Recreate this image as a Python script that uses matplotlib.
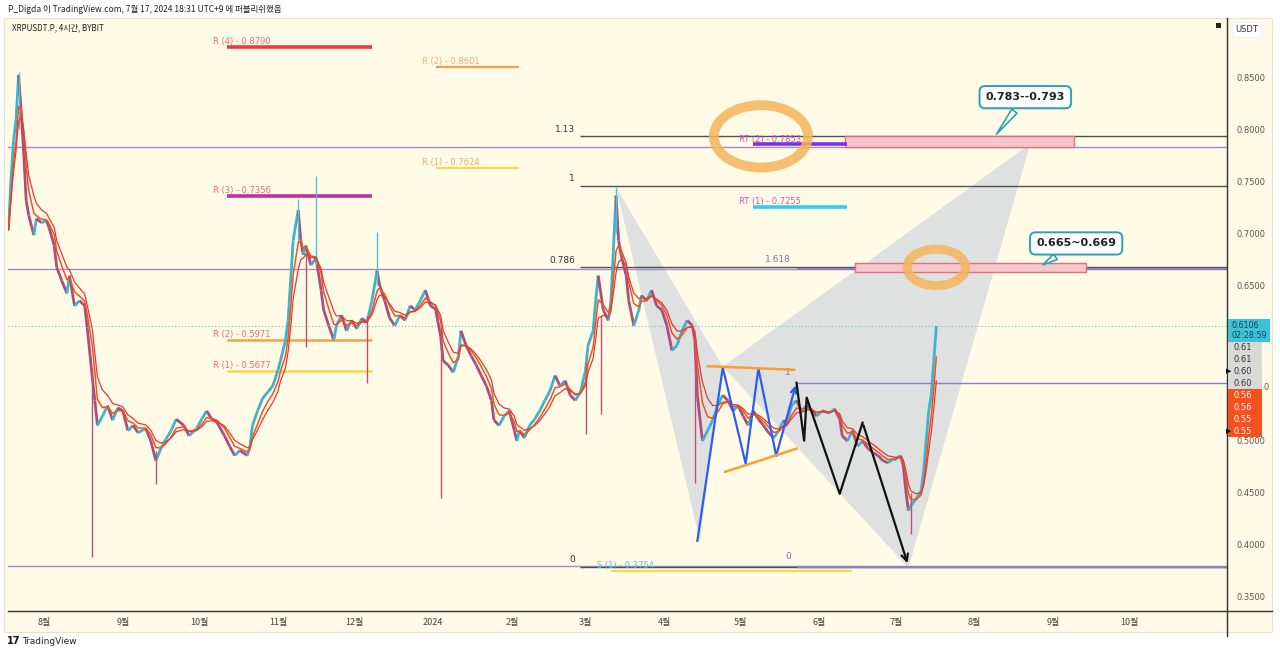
import matplotlib
matplotlib.use('Agg')
import matplotlib.pyplot as plt
import matplotlib.dates as mdates
from matplotlib.collections import LineCollection
from matplotlib.patches import Ellipse, Rectangle, Polygon
from matplotlib.lines import Line2D
import numpy as np
import pandas as pd

KR = ['Noto Sans CJK KR', 'DejaVu Sans']
plt.rcParams['font.family'] = ['DejaVu Sans']

# ---------------- data ----------------
dates = [
 '2023-07-18','2023-07-19','2023-07-20','2023-07-21','2023-07-22','2023-07-23','2023-07-24','2023-07-25','2023-07-26','2023-07-28','2023-07-29','2023-07-31',
 '2023-08-02','2023-08-03','2023-08-05','2023-08-06','2023-08-08','2023-08-10','2023-08-11','2023-08-13','2023-08-15','2023-08-17','2023-08-18','2023-08-20','2023-08-21','2023-08-22','2023-08-24','2023-08-26','2023-08-28','2023-08-30',
 '2023-09-01','2023-09-03','2023-09-05','2023-09-07','2023-09-10','2023-09-12','2023-09-14','2023-09-16','2023-09-18','2023-09-20','2023-09-22','2023-09-25','2023-09-27','2023-09-30',
 '2023-10-02','2023-10-04','2023-10-06','2023-10-08','2023-10-11','2023-10-13','2023-10-15','2023-10-17','2023-10-20','2023-10-21','2023-10-22','2023-10-24','2023-10-26','2023-10-28','2023-10-30',
 '2023-11-01','2023-11-02','2023-11-04','2023-11-05','2023-11-06','2023-11-07','2023-11-09','2023-11-10','2023-11-11','2023-11-12','2023-11-14','2023-11-16','2023-11-18','2023-11-19','2023-11-21','2023-11-23','2023-11-24','2023-11-26','2023-11-28','2023-11-30',
 '2023-12-02','2023-12-04','2023-12-06','2023-12-08','2023-12-10','2023-12-11','2023-12-13','2023-12-15','2023-12-17','2023-12-19','2023-12-21','2023-12-23','2023-12-25','2023-12-27','2023-12-29','2023-12-31',
 '2024-01-02','2024-01-04','2024-01-05','2024-01-07','2024-01-09','2024-01-11','2024-01-12','2024-01-14','2024-01-16','2024-01-18','2024-01-20','2024-01-22','2024-01-24','2024-01-25','2024-01-27','2024-01-29','2024-01-31',
 '2024-02-02','2024-02-03','2024-02-04','2024-02-06','2024-02-08','2024-02-10','2024-02-12','2024-02-14','2024-02-16','2024-02-18','2024-02-20','2024-02-22','2024-02-24','2024-02-26','2024-02-28',
 '2024-03-01','2024-03-02','2024-03-04','2024-03-05','2024-03-06','2024-03-08','2024-03-10','2024-03-11','2024-03-13','2024-03-14','2024-03-15','2024-03-17','2024-03-18','2024-03-20','2024-03-22','2024-03-23','2024-03-25','2024-03-27','2024-03-29','2024-03-31',
 '2024-04-02','2024-04-04','2024-04-06','2024-04-08','2024-04-10','2024-04-12','2024-04-13','2024-04-14','2024-04-16','2024-04-18','2024-04-20','2024-04-22','2024-04-24','2024-04-26','2024-04-28','2024-04-30',
 '2024-05-02','2024-05-04','2024-05-06','2024-05-08','2024-05-10','2024-05-12','2024-05-14','2024-05-16','2024-05-18','2024-05-19','2024-05-21','2024-05-23','2024-05-25','2024-05-27','2024-05-29','2024-05-31',
 '2024-06-02','2024-06-05','2024-06-07','2024-06-09','2024-06-10','2024-06-12','2024-06-14','2024-06-16','2024-06-18','2024-06-20','2024-06-22','2024-06-24','2024-06-26','2024-06-28','2024-06-30',
 '2024-07-01','2024-07-03','2024-07-04','2024-07-05','2024-07-06','2024-07-07','2024-07-09','2024-07-11','2024-07-12','2024-07-13','2024-07-14','2024-07-15','2024-07-16','2024-07-17']
closes = [
 0.703,0.751,0.789,0.809,0.852,0.818,0.777,0.731,0.717,0.698,0.714,0.710,
 0.712,0.705,0.688,0.667,0.654,0.642,0.659,0.630,0.635,0.630,0.609,0.561,0.539,0.515,0.524,0.534,0.520,0.532,
 0.529,0.510,0.515,0.508,0.512,0.500,0.481,0.493,0.502,0.510,0.521,0.515,0.505,0.512,
 0.521,0.529,0.521,0.518,0.505,0.495,0.486,0.491,0.486,0.495,0.515,0.529,0.541,0.547,0.553,
 0.568,0.577,0.597,0.616,0.654,0.693,0.722,0.693,0.679,0.688,0.669,0.676,0.645,0.626,0.611,0.597,0.611,0.621,0.606,0.616,
 0.608,0.618,0.614,0.635,0.664,0.650,0.635,0.618,0.611,0.621,0.616,0.630,0.626,0.635,0.645,0.630,
 0.627,0.601,0.577,0.573,0.566,0.582,0.606,0.592,0.582,0.573,0.563,0.553,0.539,0.520,0.515,0.524,0.529,
 0.510,0.500,0.510,0.503,0.515,0.521,0.529,0.539,0.548,0.563,0.553,0.558,0.544,0.539,0.547,
 0.568,0.592,0.606,0.635,0.659,0.626,0.616,0.635,0.736,0.693,0.679,0.659,0.635,0.611,0.626,0.640,0.635,0.645,0.630,0.626,
 0.611,0.587,0.592,0.606,0.616,0.611,0.597,0.544,0.500,0.510,0.520,0.534,0.544,0.539,0.529,0.534,
 0.524,0.515,0.529,0.521,0.515,0.508,0.503,0.510,0.520,0.515,0.534,0.539,0.529,0.534,0.529,0.524,
 0.529,0.527,0.531,0.521,0.505,0.500,0.510,0.495,0.500,0.493,0.489,0.486,0.481,0.479,0.483,
 0.483,0.486,0.476,0.452,0.433,0.438,0.444,0.452,0.471,0.500,0.529,0.544,0.577,0.6106]

spike_dates = ['2023-07-22','2023-11-09','2023-11-16','2023-12-10','2024-03-13']
spike_lo = [0.80, 0.69, 0.67, 0.65, 0.70]
spike_hi = [0.855, 0.733, 0.755, 0.701, 0.744]
drop_dates = ['2023-08-20','2023-09-14','2023-11-12','2023-12-06','2024-01-04','2024-03-01','2024-03-07','2024-04-13','2024-07-07']
drop_lo = [0.388, 0.459, 0.590, 0.556, 0.445, 0.507, 0.526, 0.460, 0.411]
drop_hi = [0.570, 0.490, 0.680, 0.620, 0.610, 0.575, 0.620, 0.600, 0.450]

month_ticks = ['2023-08-01','2023-09-01','2023-10-01','2023-11-01','2023-12-01','2024-01-01','2024-02-01','2024-03-01',
               '2024-04-01','2024-05-01','2024-06-01','2024-07-01','2024-08-01','2024-09-01','2024-10-01']
month_labels = ['8월','9월','10월','11월','12월','2024','2월','3월','4월','5월','6월','7월','8월','9월','10월']
price_ticks = [0.35,0.40,0.45,0.50,0.65,0.70,0.75,0.80,0.85]   # 0.55 / 0.60 are hidden behind the price tags

full_levels = [0.783, 0.665, 0.380]
fib_labels = ['1.13', '1', '0.786', '0']
fib_prices = [0.793, 0.745, 0.667, 0.379]
fib_start = '2024-02-28'
fib2_labels = ['1.618', '1', '0']
fib2_prices = [0.665, 0.556, 0.379]
fib2_start = '2024-05-23'

sr_names  = ['R (4) - 0.8790','R (3) - 0.7356','R (2) - 0.5971','R (1) - 0.5677','R (2) - 0.8601','R (1) - 0.7624','RT (2) - 0.7853','RT (1) - 0.7255','S (1) - 0.3754']
sr_prices = [0.8790, 0.7356, 0.5971, 0.5677, 0.8601, 0.7624, 0.7853, 0.7255, 0.3754]
sr_start  = ['2023-10-12','2023-10-12','2023-10-12','2023-10-12','2024-01-02','2024-01-02','2024-05-06','2024-05-06','2024-03-11']
sr_end    = ['2023-12-08','2023-12-08','2023-12-08','2023-12-08','2024-02-04','2024-02-04','2024-06-12','2024-06-12','2024-06-14']

xabcd_dates = ['2024-03-13','2024-04-15','2024-04-24','2024-08-23','2024-07-06']
xabcd_prices = [0.744, 0.404, 0.5716, 0.786, 0.378]

blue_dates = ['2024-04-14','2024-04-24','2024-05-03','2024-05-08','2024-05-15','2024-05-23']
blue_prices = [0.404, 0.5706, 0.4781, 0.5697, 0.4858, 0.5562]
black_dates = ['2024-05-23','2024-05-26','2024-05-27','2024-06-09','2024-06-18','2024-07-06']
black_prices = [0.556, 0.5003, 0.5417, 0.4492, 0.5176, 0.3799]

tri_upper_dates = ['2024-04-18','2024-05-22']
tri_upper_prices = [0.572, 0.5685]
tri_lower_dates = ['2024-04-25','2024-05-23']
tri_lower_prices = [0.4704, 0.4926]

zones = [('2024-06-11','2024-09-09',0.783,0.793), ('2024-06-15','2024-09-14',0.663,0.671)]
last_price = 0.6106

# ---------------- figure ----------------
W, H = 1280, 654
fig = plt.figure(figsize=(W/100, H/100), dpi=100)
fig.patch.set_facecolor('white')
CREAM = '#fffbe6'

def fx(px): return px / W
def fy(py): return 1 - py / H

fig.add_artist(Rectangle((fx(4), fy(632)), 1268/W, 614/H, transform=fig.transFigure,
                         fc=CREAM, ec='#e6e3d6', lw=0.8, zorder=0))

ax = fig.add_axes([fx(8), fy(611), (1227-8)/W, (611-20)/H])
ax.set_facecolor(CREAM)
D = lambda s: mdates.date2num(pd.to_datetime(s))
x0, x1 = D('2023-07-17 20:00'), D('2024-11-08 08:00')
ax.set_xlim(x0, x1)
ax.set_ylim(0.3365, 0.9049)

xd = D(dates)
yc = np.array(closes)

# harmonic XABCD fill
X, A, B, C, Dd = [(D(d), p) for d, p in zip(xabcd_dates, xabcd_prices)]
gray = '#dee1e0'
ax.add_patch(Polygon([X, A, B], closed=True, fc=gray, ec='none', zorder=1))
ax.add_patch(Polygon([B, C, Dd], closed=True, fc=gray, ec='none', zorder=1))

# horizontal levels
for p in full_levels:
    ax.axhline(p, color='#9a8fcf', lw=1.0, zorder=2)
for lab, p in zip(fib_labels, fib_prices):
    ax.hlines(p, D(fib_start), x1, color='#505050', lw=1.0, zorder=2)
    ax.annotate(lab, (D(fib_start), p), xytext=(-4, 2), textcoords='offset points',
                ha='right', va='bottom', fontsize=6.5, color='#333333')
for lab, p in zip(fib2_labels, fib2_prices):
    ax.hlines(p, D(fib2_start), x1, color='#8c80c4', lw=1.6 if lab == '1.618' else 1.0, zorder=2)
    ax.annotate(lab, (D(fib2_start), p), xytext=(-4, 4), textcoords='offset points',
                ha='right', va='bottom', fontsize=6.5, color='#7a74a8')
ax.axhline(last_price, color='#5cc8da', lw=0.8, ls=(0, (1, 2)), zorder=2)

# zones
for s, e, lo, hi in zones:
    ax.add_patch(Rectangle((D(s), lo), D(e) - D(s), hi - lo, fc='#f7c6cc', ec='#e0707c', lw=1.0, zorder=3))

# support / resistance labels
sr_colors = ['#f23645', '#c2309a', '#f5a04a', '#f7d84a', '#f5a04a', '#f7d84a', '#7c2ff0', '#2bd2ea', '#f7d84a']
sr_text = ['#f06a78', '#f06a78', '#f06a78', '#f06a78', '#f4a868', '#f4a868', '#e04fb8', '#e04fb8', '#4fc3e8']
sr_lw = [2.6, 2.6, 1.8, 1.8, 1.6, 1.6, 2.6, 2.6, 1.6]
for n, p, s, e, c, tc, lw in zip(sr_names, sr_prices, sr_start, sr_end, sr_colors, sr_text, sr_lw):
    ax.hlines(p, D(s), D(e), color=c, lw=lw, zorder=3)
    ax.annotate(n, (D(s), p), xytext=(-10, 0.5), textcoords='offset points',
                ha='left', va='bottom', fontsize=6, color=tc, zorder=3)

# price series
pts = np.column_stack([xd, yc])
segs = np.stack([pts[:-1], pts[1:]], axis=1)
cols = np.where(np.diff(yc) >= 0, '#3fb2cc', '#a8507c')
ax.add_collection(LineCollection(segs, colors=cols, lw=2.0, zorder=4))
ax.vlines(D(spike_dates), spike_lo, spike_hi, color='#4cc3da', lw=1.0, zorder=4)
ax.vlines(D(drop_dates), drop_lo, drop_hi, color='#c05070', lw=1.0, zorder=4)
s = pd.Series(yc)
ax.plot(xd, s.ewm(span=3).mean(), color='#f4511e', lw=1.1, zorder=5)
ax.plot(xd, s.ewm(span=5).mean(), color='#e53935', lw=0.9, zorder=5)

# zigzags
bx, by = D(blue_dates), blue_prices
ax.plot(bx[:-1], by[:-1], color='#2f5cf0', lw=1.6, zorder=6)
ax.annotate('', xy=(bx[-1], by[-1]), xytext=(bx[-2], by[-2]),
            arrowprops=dict(arrowstyle='->', color='#2f5cf0', lw=1.6, mutation_scale=10), zorder=6)
kx, ky = D(black_dates), black_prices
ax.plot(kx[:-1], ky[:-1], color='#111111', lw=1.6, zorder=6)
ax.annotate('', xy=(kx[-1], ky[-1]), xytext=(kx[-2], ky[-2]),
            arrowprops=dict(arrowstyle='->', color='#111111', lw=1.6, mutation_scale=12), zorder=6)
ax.plot(D(tri_upper_dates), tri_upper_prices, color='#f5a030', lw=1.8, zorder=6)
ax.plot(D(tri_lower_dates), tri_lower_prices, color='#f5a030', lw=1.8, zorder=6)

# hand-drawn highlight circles
ax.add_patch(Ellipse((D('2024-05-09'), 0.793), 37, 0.060, fill=False, ec='#f5b55c', lw=7, alpha=0.85, zorder=7))
ax.add_patch(Ellipse((D('2024-07-17'), 0.667), 23, 0.035, fill=False, ec='#f5b55c', lw=6.5, alpha=0.85, zorder=7))

# callouts
for txt, tpos, ppos in [('0.783--0.793', ('2024-08-21', 0.8307), ('2024-08-09', 0.793)),
                        ('0.665~0.669', ('2024-09-10', 0.690), ('2024-08-27', 0.668))]:
    ax.annotate(txt, xy=(D(ppos[0]), ppos[1]), xytext=(D(tpos[0]), tpos[1]),
                ha='center', va='center', fontsize=8, fontweight='bold', color='#222222',
                bbox=dict(boxstyle='round,pad=0.55,rounding_size=0.5', fc='white', ec='#2aa3ad', lw=1.4),
                arrowprops=dict(arrowstyle='wedge,tail_width=0.6', fc='white', ec='#2aa3ad', lw=1.2),
                zorder=8)

# axes styling
for sp in ['top', 'left', 'right', 'bottom']:
    ax.spines[sp].set_visible(False)
ax.set_xticks(D(month_ticks))
ax.set_xticklabels(month_labels, fontfamily=KR)
ax.tick_params(axis='x', length=0, labelsize=6.5, colors='#444444', pad=5)
ax.yaxis.tick_right()
ax.set_yticks(price_ticks)
ax.set_yticklabels([f'{v:.4f}' for v in price_ticks])
ax.tick_params(axis='y', length=0, labelsize=6, colors='#555555', pad=7)

fig.add_artist(Line2D([fx(1227), fx(1227)], [fy(636), fy(18)], color='#333333', lw=1.0, transform=fig.transFigure))
fig.add_artist(Line2D([fx(8), fx(1272)], [fy(611), fy(611)], color='#333333', lw=1.0, transform=fig.transFigure))

# right axis tags
def tag(y0, y1, x1p, fc):
    fig.add_artist(Rectangle((fx(1228), fy(y1)), (x1p-1228)/W, (y1-y0)/H, transform=fig.transFigure,
                             fc=fc, ec='none', zorder=10))
tag(319, 342, 1270, '#3cc3d8')
fig.text(fx(1232), fy(325), '0.6106', fontsize=5.8, color='#0d4450', va='center', zorder=11)
fig.text(fx(1232), fy(336), '02:28:59', fontsize=5.8, color='#0d4450', va='center', zorder=11)
tag(342, 389, 1262, '#d9d9d6')
for yy, t in zip([347, 359, 371, 383], ['0.61', '0.61', '0.60', '0.60']):
    fig.text(fx(1234), fy(yy), t, fontsize=6, color='#333333', va='center', zorder=11)
tag(389, 437, 1262, '#f4511e')
for yy, t in zip([395, 407, 419, 431], ['0.56', '0.56', '0.55', '0.55']):
    fig.text(fx(1234), fy(yy), t, fontsize=6, color='white', va='center', zorder=11)
fig.text(fx(1264), fy(388), '0', fontsize=6, color='#555555', va='center')
for yy in [371, 431]:
    fig.text(fx(1226), fy(yy), '▶', fontsize=5, color='#111111', va='center', zorder=12)
fig.text(fx(1247), fy(30), 'USDT', fontsize=6, color='#333333', ha='center', va='center',
         bbox=dict(boxstyle='round,pad=0.4', fc='white', ec='#eeeeee', lw=0.5))
fig.add_artist(Rectangle((fx(1216), fy(28)), 5/W, 5/H, transform=fig.transFigure, fc='#222222', ec='none'))

# header / footer
fig.text(fx(8), fy(9), 'P_Digda 이 TradingView.com, 7월 17, 2024 18:31 UTC+9 에 퍼블리쉬했음',
         fontsize=6.1, color='#222222', va='center', fontfamily=KR)
fig.text(fx(12), fy(28), 'XRPUSDT.P, 4시간, BYBIT', fontsize=5.8, color='#222222', va='center', fontfamily=KR)
fig.text(fx(7), fy(641), '17', fontsize=7, fontweight='heavy', color='#111111', va='center')
fig.text(fx(22), fy(641), 'TradingView', fontsize=6.5, color='#222222', va='center')

fig.savefig('out.png', dpi=100, facecolor='white')
